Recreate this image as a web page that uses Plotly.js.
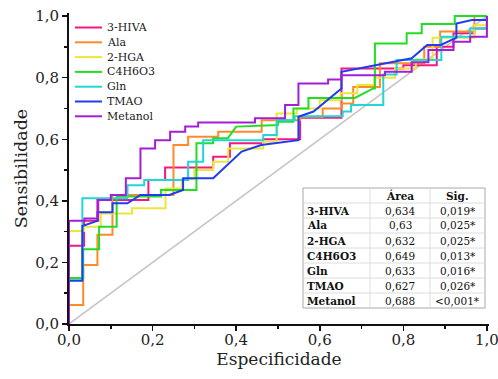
<!DOCTYPE html>
<html>
<head>
<meta charset="utf-8">
<script src="https://cdn.plot.ly/plotly-3.0.1.min.js"></script>
<style>html,body{margin:0;padding:0;background:#fff;}#chart{width:498px;height:379px;}</style>
</head>
<body>
<div id="chart"></div>
<script>
// ---- data ----
var seriesNames = ["3-HIVA", "Ala", "2-HGA", "C4H6O3", "Gln", "TMAO", "Metanol"];
var seriesColors = ["#f2187f", "#ff8a2a", "#ece53c", "#22dd22", "#22d6d6", "#1f3cf2", "#a21fd6"];

var hivaX = [0,0,0.036,0.036,0.07,0.07,0.19,0.19,0.23,0.23,0.345,0.345,0.385,0.385,0.464,0.464,0.553,0.553,0.652,0.652,0.80,0.80,0.88,0.88,0.92,0.92,0.97,0.97,1,1];
var hivaY = [0,0.254,0.254,0.335,0.335,0.403,0.403,0.468,0.468,0.508,0.508,0.543,0.543,0.587,0.587,0.60,0.60,0.67,0.67,0.83,0.83,0.84,0.84,0.90,0.90,0.944,0.944,0.96,0.96,1];

var alaX = [0,0,0.034,0.034,0.068,0.068,0.104,0.104,0.25,0.25,0.285,0.285,0.357,0.357,0.461,0.461,0.553,0.553,0.607,0.607,0.653,0.653,0.68,0.68,0.744,0.744,0.85,0.85,0.888,0.888,0.97,0.97,1];
var alaY = [0,0.062,0.062,0.192,0.192,0.29,0.29,0.419,0.419,0.581,0.581,0.608,0.608,0.624,0.624,0.662,0.662,0.673,0.673,0.70,0.70,0.716,0.716,0.77,0.77,0.847,0.847,0.90,0.90,0.95,0.95,1,1];

var hgaX = [0,0,0.036,0.036,0.076,0.076,0.151,0.151,0.231,0.231,0.27,0.27,0.30,0.30,0.345,0.345,0.381,0.381,0.464,0.464,0.497,0.497,0.545,0.545,0.60,0.60,0.65,0.65,0.69,0.69,0.73,0.73,0.78,0.78,0.83,0.83,0.87,0.87,0.97,0.97,1,1];
var hgaY = [0,0.302,0.302,0.316,0.316,0.359,0.359,0.376,0.376,0.44,0.44,0.47,0.47,0.50,0.50,0.527,0.527,0.57,0.57,0.592,0.592,0.684,0.684,0.70,0.70,0.727,0.727,0.749,0.749,0.776,0.776,0.80,0.80,0.83,0.83,0.86,0.86,0.93,0.93,0.97,0.97,1];

var c4X = [0,0,0.034,0.034,0.072,0.072,0.114,0.114,0.22,0.22,0.305,0.305,0.345,0.345,0.38,0.40,0.50,0.50,0.537,0.537,0.573,0.573,0.684,0.728,0.732,0.732,0.808,0.808,0.844,0.844,0.923,0.923,1];
var c4Y = [0,0.149,0.149,0.243,0.243,0.316,0.316,0.414,0.414,0.435,0.435,0.587,0.587,0.603,0.603,0.641,0.646,0.657,0.657,0.70,0.70,0.734,0.734,0.765,0.765,0.911,0.911,0.944,0.944,0.974,0.974,1,1];

var glnX = [0,0,0.032,0.032,0.14,0.14,0.18,0.18,0.285,0.285,0.321,0.321,0.465,0.465,0.497,0.497,0.54,0.54,0.655,0.655,0.675,0.675,0.752,0.752,0.784,0.784,0.891,0.891,0.96,0.96,1,1];
var glnY = [0,0.14,0.14,0.408,0.408,0.451,0.451,0.468,0.468,0.527,0.527,0.597,0.597,0.614,0.614,0.662,0.662,0.675,0.675,0.69,0.69,0.711,0.711,0.81,0.81,0.857,0.857,0.933,0.933,0.96,0.96,1];

var tmaoX = [0,0,0.032,0.032,0.068,0.068,0.104,0.104,0.14,0.171,0.24,0.273,0.273,0.345,0.413,0.46,0.549,0.549,0.585,0.652,0.652,0.72,0.82,0.857,0.89,0.927,0.927,0.964,1,1];
var tmaoY = [0,0.141,0.141,0.318,0.335,0.363,0.363,0.392,0.392,0.419,0.419,0.435,0.473,0.473,0.56,0.581,0.597,0.673,0.69,0.765,0.819,0.837,0.863,0.906,0.906,0.93,0.976,0.987,0.987,1];

var metX = [0,0,0.037,0.037,0.068,0.068,0.10,0.10,0.136,0.136,0.171,0.171,0.206,0.206,0.242,0.242,0.278,0.278,0.309,0.309,0.445,0.445,0.517,0.517,0.549,0.549,0.62,0.62,0.652,0.652,0.756,0.756,0.82,0.82,0.86,0.86,0.92,0.92,0.96,0.96,1,1];
var metY = [0,0.335,0.335,0.343,0.343,0.403,0.403,0.419,0.419,0.473,0.473,0.570,0.570,0.597,0.597,0.624,0.624,0.641,0.641,0.654,0.654,0.668,0.668,0.711,0.711,0.781,0.781,0.794,0.794,0.808,0.808,0.819,0.819,0.85,0.85,0.89,0.89,0.917,0.917,0.933,0.933,1];

var refX = [0, 1];
var refY = [0, 1];

var tickVals = [0, 0.2, 0.4, 0.6, 0.8, 1.0];
var tickLabels = ["0,0", "0,2", "0,4", "0,6", "0,8", "1,0"];

var tableHeader = ["", "Área", "Sig."];
var tableArea = ["0,634", "0,63", "0,632", "0,649", "0,633", "0,627", "0,688"];
var tableSig = ["0,019*", "0,025*", "0,025*", "0,013*", "0,016*", "0,026*", "<0,001*"];

// ---- page geometry (pixels) ----
var W = 498, H = 379;
var M = {l: 69, r: 9, t: 13, b: 55};
var PW = W - M.l - M.r, PH = H - M.t - M.b;
function px2x(px) { return (px - M.l) / PW; }
function py2y(py) { return (H - M.b - py) / PH; }

var FONT = "DejaVu Serif, Liberation Serif, serif";

// ---- traces ----
var xs = [hivaX, alaX, hgaX, c4X, glnX, tmaoX, metX];
var ys = [hivaY, alaY, hgaY, c4Y, glnY, tmaoY, metY];
var traces = [{
  x: refX, y: refY, type: "scatter", mode: "lines",
  line: {color: "#c4c4c4", width: 1.5}, showlegend: false, hoverinfo: "skip"
}];
for (var i = 0; i < seriesNames.length; i++) {
  traces.push({
    x: xs[i], y: ys[i], type: "scatter", mode: "lines", name: seriesNames[i],
    line: {color: seriesColors[i], width: 2}, showlegend: false
  });
}

// ---- legend (compact, drawn as shapes + annotations) ----
var shapes = [], annotations = [];
var legTop = 27.5, legStep = 14.8, legX0 = 75, legX1 = 102, legTX = 105;
seriesNames.forEach(function (n, k) {
  var py = legTop + k * legStep;
  shapes.push({type: "line", xref: "paper", yref: "paper",
    x0: px2x(legX0), x1: px2x(legX1), y0: py2y(py), y1: py2y(py),
    line: {color: seriesColors[k], width: 2}});
  annotations.push({xref: "paper", yref: "paper", x: px2x(legTX), y: py2y(py),
    xanchor: "left", yanchor: "middle", showarrow: false, text: n,
    font: {family: FONT, size: 11, color: "#1a1a1a"}});
});

// ---- table (shapes + annotations) ----
var tL = 303, tR = 485, tT = 188, rowH = 15;
var colEdges = [303, 370, 430, 485];
var nRows = seriesNames.length + 1;
var tB = tT + nRows * rowH;
shapes.push({type: "rect", xref: "paper", yref: "paper",
  x0: px2x(tL), x1: px2x(tR), y0: py2y(tB), y1: py2y(tT),
  fillcolor: "#ffffff", line: {color: "#a8a8a8", width: 1}, layer: "above"});
for (var r = 1; r < nRows; r++) {
  shapes.push({type: "line", xref: "paper", yref: "paper",
    x0: px2x(tL), x1: px2x(tR), y0: py2y(tT + r * rowH), y1: py2y(tT + r * rowH),
    line: {color: "#dcdcdc", width: 1}, layer: "above"});
}
[1, 2].forEach(function (c) {
  shapes.push({type: "line", xref: "paper", yref: "paper",
    x0: px2x(colEdges[c]), x1: px2x(colEdges[c]), y0: py2y(tB), y1: py2y(tT),
    line: {color: "#dcdcdc", width: 1}, layer: "above"});
});
function cellText(txt, row, col, bold) {
  var yc = py2y(tT + row * rowH + rowH / 2);
  var a = {xref: "paper", yref: "paper", y: yc, yanchor: "middle", showarrow: false,
    text: bold ? "<b>" + txt + "</b>" : txt,
    font: {family: FONT, size: 10.5, color: "#111"}};
  if (col === 0) { a.x = px2x(colEdges[0] + 2); a.xanchor = "left"; }
  else { a.x = px2x((colEdges[col] + colEdges[col + 1]) / 2); a.xanchor = "center"; }
  annotations.push(a);
}
cellText(tableHeader[1], 0, 1, true);
cellText(tableHeader[2], 0, 2, true);
seriesNames.forEach(function (n, k) {
  cellText(n, k + 1, 0, true);
  cellText(tableArea[k], k + 1, 1, false);
  cellText(tableSig[k], k + 1, 2, false);
});

var axisCommon = {
  tickmode: "array", tickvals: tickVals, ticktext: tickLabels,
  showgrid: false, zeroline: false, showline: true, linecolor: "#111", linewidth: 2,
  ticks: "outside", ticklen: 5, tickwidth: 1.5, tickcolor: "#111",
  minor: {dtick: 0.1, ticks: "outside", ticklen: 3, tickwidth: 1.5, tickcolor: "#111", showgrid: false},
  tickfont: {family: FONT, size: 15, color: "#222"},
  ticklabeloverflow: "allow"
};

var layout = {
  width: W, height: H,
  margin: M,
  paper_bgcolor: "#fff", plot_bgcolor: "#fff",
  showlegend: false,
  shapes: shapes,
  annotations: annotations,
  xaxis: Object.assign({}, axisCommon, {range: [0, 1.005], ticklabelstandoff: -4,
    title: {text: "Especificidade", font: {family: FONT, size: 17, color: "#222"}, standoff: 0}}),
  yaxis: Object.assign({}, axisCommon, {range: [0, 1.01],
    title: {text: "Sensibilidade", font: {family: FONT, size: 17.5, color: "#222"}, standoff: 3}})
};

Plotly.newPlot("chart", traces, layout, {displayModeBar: false, staticPlot: true});
</script>
</body>
</html>
